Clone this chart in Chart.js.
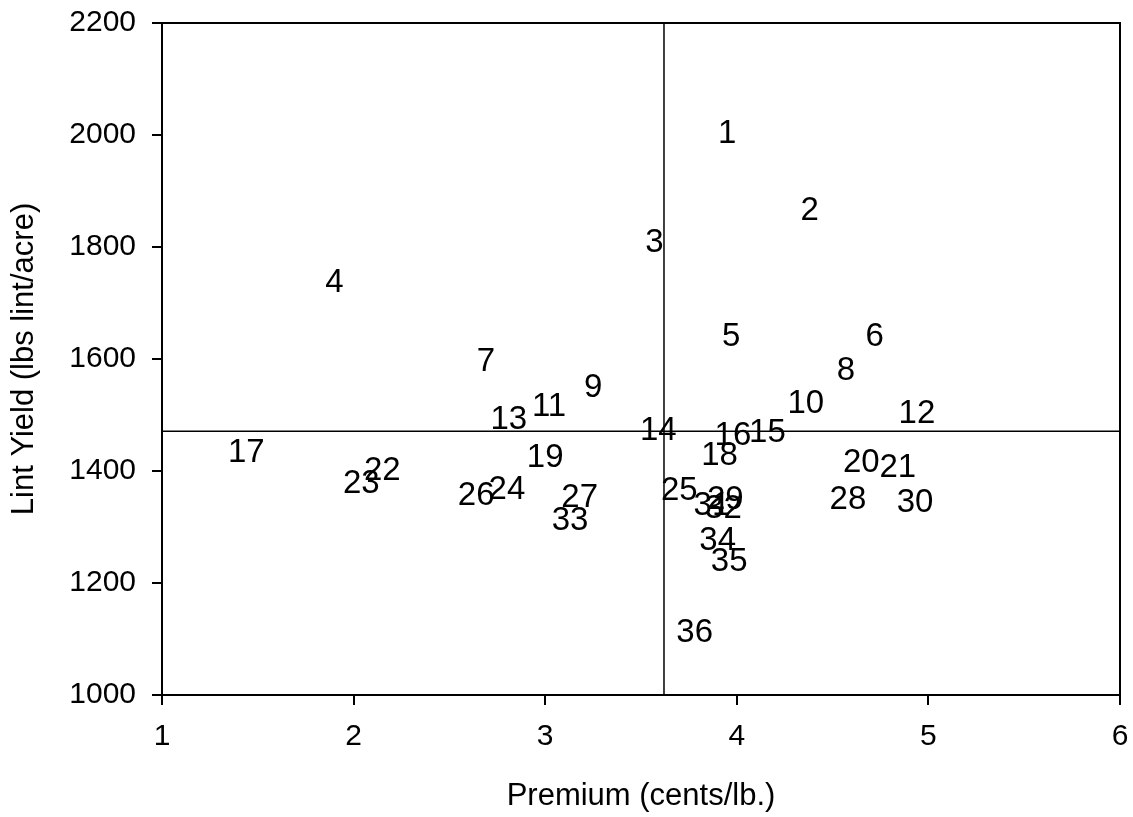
<!DOCTYPE html>
<html>
<head>
<meta charset="utf-8">
<script src="https://cdn.jsdelivr.net/npm/chart.js@4"></script>
<style>
  body { margin: 0; background: #fff; }
</style>
</head>
<body>
<canvas id="premium-chart" width="1133" height="817"></canvas>
<script>
// entry numbers used as point labels
const entries = [
  "1", "2", "3", "4", "5", "6", "7", "8", "9", "10", "11", "12",
  "13", "14", "15", "16", "17", "18", "19", "20", "21", "22", "23", "24",
  "25", "26", "27", "28", "29", "30", "31", "32", "33", "34", "35", "36",
];
// premium, cents/lb.
const premium = [
  3.95, 4.38, 3.57, 1.90, 3.97, 4.72, 2.69, 4.57, 3.25, 4.36, 3.02, 4.94,
  2.81, 3.59, 4.16, 3.98, 1.44, 3.91, 3.00, 4.65, 4.84, 2.15, 2.04, 2.80,
  3.70, 2.64, 3.18, 4.58, 3.94, 4.93, 3.87, 3.93, 3.13, 3.90, 3.96, 3.78,
];
// lint yield, lbs lint/acre
const lintYield = [
  2006, 1869, 1813, 1741, 1644, 1644, 1600, 1583, 1554, 1524, 1519, 1507,
  1496, 1476, 1472, 1467, 1437, 1431, 1429, 1420, 1411, 1405, 1381, 1371,
  1370, 1360, 1356, 1354, 1354, 1348, 1342, 1337, 1316, 1280, 1243, 1116,
];
// average lines
const meanPremium = 3.62;
const meanYield = 1471;
const xRange = [1, 6];
const yRange = [1000, 2200];

const points = premium.map((p, i) => ({ x: p, y: lintYield[i] }));

const fontFamily = "'Liberation Sans', Arial, sans-serif";

// numbers drawn where the points are (markers are hidden)
const pointLabels = {
  id: "pointLabels",
  afterDatasetsDraw(chart) {
    const ctx = chart.ctx;
    const meta = chart.getDatasetMeta(0);
    const size = 33;
    ctx.save();
    ctx.font = size + "px " + fontFamily;
    ctx.fillStyle = "#000";
    ctx.textAlign = "center";
    ctx.textBaseline = "alphabetic";
    meta.data.forEach((el, i) => {
      ctx.fillText(entries[i], el.x, el.y + size * 0.358);
    });
    ctx.restore();
  },
};

// top and right edges of the plot box
const plotBox = {
  id: "plotBox",
  afterDraw(chart) {
    const { ctx, chartArea: a } = chart;
    ctx.save();
    ctx.strokeStyle = "#000";
    ctx.lineWidth = 2;
    ctx.beginPath();
    ctx.moveTo(a.left, a.top);
    ctx.lineTo(a.right, a.top);
    ctx.lineTo(a.right, a.bottom);
    ctx.stroke();
    ctx.restore();
  },
};

const config = {
  type: "scatter",
  data: {
    datasets: [
      {
        label: "Entries",
        data: points,
        pointRadius: 0,
        pointHoverRadius: 0,
      },
      {
        type: "line",
        label: "Mean premium",
        data: [{ x: meanPremium, y: yRange[0] }, { x: meanPremium, y: yRange[1] }],
        borderColor: "#000",
        borderWidth: 1.5,
        pointRadius: 0,
      },
      {
        type: "line",
        label: "Mean yield",
        data: [{ x: xRange[0], y: meanYield }, { x: xRange[1], y: meanYield }],
        borderColor: "#000",
        borderWidth: 1.5,
        pointRadius: 0,
      },
    ],
  },
  options: {
    responsive: false,
    animation: false,
    layout: { padding: { top: 23, right: 13, left: 0, bottom: 0 } },
    plugins: {
      legend: { display: false },
      tooltip: { enabled: false },
    },
    scales: {
      x: {
        type: "linear",
        min: xRange[0],
        max: xRange[1],
        ticks: {
          stepSize: 1,
          color: "#000",
          padding: 14,
          font: { family: fontFamily, size: 30 },
          callback: (v) => String(v),
        },
        grid: {
          drawOnChartArea: false,
          drawTicks: true,
          tickLength: 10,
          color: "#000",
          lineWidth: 2,
        },
        border: { display: true, color: "#000", width: 2 },
        title: {
          display: true,
          text: "Premium (cents/lb.)",
          color: "#000",
          padding: { top: 0, bottom: 2 },
          font: { family: fontFamily, size: 31 },
        },
        afterFit(scale) {
          scale.height = 122;
          scale.paddingLeft = 0;
          scale.paddingRight = 0;
        },
      },
      y: {
        type: "linear",
        min: yRange[0],
        max: yRange[1],
        ticks: {
          stepSize: 200,
          color: "#000",
          padding: 16,
          font: { family: fontFamily, size: 30 },
          callback: (v) => String(v),
        },
        grid: {
          drawOnChartArea: false,
          drawTicks: true,
          tickLength: 10,
          color: "#000",
          lineWidth: 2,
        },
        border: { display: true, color: "#000", width: 2 },
        title: {
          display: true,
          text: "Lint Yield (lbs lint/acre)",
          color: "#000",
          padding: { top: 6, bottom: 0 },
          font: { family: fontFamily, size: 31 },
        },
        afterFit(scale) {
          scale.width = 162;
          scale.paddingTop = 0;
          scale.paddingBottom = 0;
        },
      },
    },
  },
  plugins: [pointLabels, plotBox],
};

const premiumChart = new Chart(document.getElementById("premium-chart"), config);
</script>
</body>
</html>
